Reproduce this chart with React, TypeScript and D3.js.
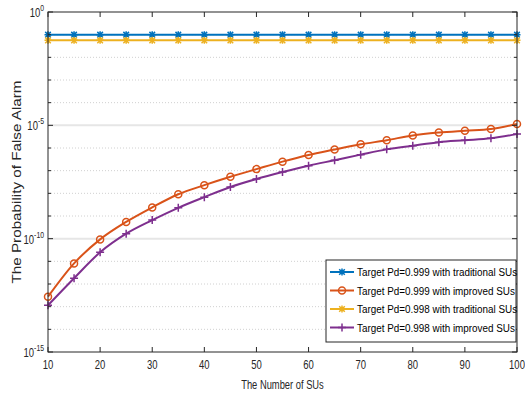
import React, { useEffect, useRef } from 'react';
import * as d3 from 'd3';

const numSUs = [10, 15, 20, 25, 30, 35, 40, 45, 50, 55, 60, 65, 70, 75, 80, 85, 90, 95, 100];
const pd999Traditional = [0.1, 0.1, 0.1, 0.1, 0.1, 0.1, 0.1, 0.1, 0.1, 0.1, 0.1, 0.1, 0.1, 0.1, 0.1, 0.1, 0.1, 0.1, 0.1];
const pd999Improved = [2.75e-13, 8.1e-12, 9.3e-11, 5.5e-10, 2.4e-9, 9.1e-9, 2.3e-8, 5.4e-8, 1.17e-7, 2.5e-7, 4.9e-7, 8.5e-7, 1.45e-6, 2.2e-6, 3.6e-6, 4.8e-6, 5.8e-6, 6.9e-6, 1.15e-5];
const pd998Traditional = [0.056, 0.056, 0.056, 0.056, 0.056, 0.056, 0.056, 0.056, 0.056, 0.056, 0.056, 0.056, 0.056, 0.056, 0.056, 0.056, 0.056, 0.056, 0.056];
const pd998Improved = [1.15e-13, 1.8e-12, 2.5e-11, 1.66e-10, 6.6e-10, 2.3e-9, 6.8e-9, 1.9e-8, 4.3e-8, 8.7e-8, 1.66e-7, 2.9e-7, 5.1e-7, 8.7e-7, 1.26e-6, 1.8e-6, 2.2e-6, 2.7e-6, 4.1e-6];
const seriesNames = [
  'Target Pd=0.999 with traditional SUs',
  'Target Pd=0.999 with improved SUs',
  'Target Pd=0.998 with traditional SUs',
  'Target Pd=0.998 with improved SUs',
];
const xTicks = [10, 20, 30, 40, 50, 60, 70, 80, 90, 100];
const yMajorExp = [0, -5, -10, -15];

export default function App() {
  const svgRef = useRef<SVGSVGElement>(null);

  useEffect(() => {
    const W = 525, H = 400;
    const m = { l: 48, r: 8, t: 12, b: 48 };
    const w = W - m.l - m.r;
    const h = H - m.t - m.b;
    const svg = d3.select(svgRef.current).attr('width', W).attr('height', H);
    svg.selectAll('*').remove();
    svg.append('rect').attr('width', W).attr('height', H).attr('fill', 'white');

    const font = 'Arial, "Liberation Sans", sans-serif';
    const x = d3.scaleLinear().domain([10, 100]).range([m.l, m.l + w]);
    const y = d3.scaleLog().domain([1e-15, 1]).range([m.t + h, m.t]);

    // condensed text: draw in a group squeezed horizontally
    const narrowText = (parent: any, tx: number, ty: number, sx: number, size: number, anchor: string) =>
      parent.append('g').attr('transform', `translate(${tx},${ty}) scale(${sx},1)`)
        .append('text').attr('font-family', font).attr('font-size', size)
        .attr('text-anchor', anchor).attr('fill', '#262626');

    const g = svg.append('g');
    // grid
    for (let e = -14; e <= -1; e++) {
      const major = e % 5 === 0;
      g.append('line')
        .attr('x1', m.l).attr('x2', m.l + w)
        .attr('y1', y(Math.pow(10, e))).attr('y2', y(Math.pow(10, e)))
        .attr('stroke', major ? '#e6e6e6' : '#d0d0d0')
        .attr('stroke-width', major ? 2 : 1)
        .attr('stroke-dasharray', major ? null : '1,2');
    }

    const series = [
      { name: seriesNames[0], data: pd999Traditional, color: '#0072BD', marker: 'star' },
      { name: seriesNames[1], data: pd999Improved, color: '#D95319', marker: 'circle' },
      { name: seriesNames[2], data: pd998Traditional, color: '#EDB120', marker: 'star' },
      { name: seriesNames[3], data: pd998Improved, color: '#7E2F8E', marker: 'plus' },
    ];

    const line = d3.line<number>()
      .x((d, i) => x(numSUs[i]))
      .y(d => y(d))
      .curve(d3.curveMonotoneX);

    const drawMarker = (sel: any, cx: number, cy: number, kind: string, color: string) => {
      if (kind === 'circle') {
        sel.append('circle').attr('cx', cx).attr('cy', cy).attr('r', 3.5)
          .attr('fill', 'none').attr('stroke', color).attr('stroke-width', 1.5);
      } else if (kind === 'plus') {
        sel.append('path').attr('d', `M${cx - 4},${cy}H${cx + 4}M${cx},${cy - 4}V${cy + 4}`)
          .attr('stroke', color).attr('stroke-width', 1.5);
      } else {
        const r = 3.5;
        sel.append('path')
          .attr('d', `M${cx - r},${cy}H${cx + r}M${cx},${cy - r}V${cy + r}M${cx - r * 0.8},${cy - r * 0.8}L${cx + r * 0.8},${cy + r * 0.8}M${cx - r * 0.8},${cy + r * 0.8}L${cx + r * 0.8},${cy - r * 0.8}`)
          .attr('stroke', color).attr('stroke-width', 1.5);
      }
    };

    series.forEach(s => {
      g.append('path').attr('d', line(s.data)).attr('fill', 'none')
        .attr('stroke', s.color).attr('stroke-width', 2);
      const mg = g.append('g');
      s.data.forEach((d, i) => drawMarker(mg, x(numSUs[i]), y(d), s.marker, s.color));
    });

    // axes frame
    g.append('rect').attr('x', m.l).attr('y', m.t).attr('width', w).attr('height', h)
      .attr('fill', 'none').attr('stroke', '#262626').attr('stroke-width', 1);

    // x ticks
    xTicks.forEach(t => {
      g.append('line').attr('x1', x(t)).attr('x2', x(t)).attr('y1', m.t + h).attr('y2', m.t + h - 5)
        .attr('stroke', '#262626');
      g.append('line').attr('x1', x(t)).attr('x2', x(t)).attr('y1', m.t).attr('y2', m.t + 5)
        .attr('stroke', '#262626');
      narrowText(g, x(t), m.t + h + 17, 0.76, 12.5, 'middle').text(t);
    });

    // y ticks
    for (let e = -15; e <= 0; e++) {
      const yy = y(Math.pow(10, e));
      const len = e % 5 === 0 ? 5 : 3;
      g.append('line').attr('x1', m.l).attr('x2', m.l + len).attr('y1', yy).attr('y2', yy).attr('stroke', '#262626');
      g.append('line').attr('x1', m.l + w).attr('x2', m.l + w - len).attr('y1', yy).attr('y2', yy).attr('stroke', '#262626');
    }
    yMajorExp.forEach(e => {
      const yy = y(Math.pow(10, e));
      const t = narrowText(g, m.l - 4, yy + 5, 0.76, 12.5, 'end');
      t.append('tspan').text('10');
      t.append('tspan').attr('dy', -6).attr('font-size', 9).text(String(e));
    });

    // axis labels
    narrowText(svg, m.l + w / 2, 389, 0.72, 13, 'middle').text('The Number of SUs');
    svg.append('text').attr('transform', `translate(21, ${m.t + h / 2}) rotate(-90)`)
      .attr('text-anchor', 'middle').attr('font-family', font)
      .attr('font-size', 13).attr('fill', '#262626')
      .attr('textLength', 203).attr('lengthAdjust', 'spacingAndGlyphs')
      .text('The Probability of False Alarm');

    // legend
    const lg = svg.append('g');
    const lx = 326, ly = 260, lw = m.l + w - 1 - lx, lh = 82;
    lg.append('rect').attr('x', lx).attr('y', ly).attr('width', lw).attr('height', lh)
      .attr('fill', 'white').attr('stroke', '#262626').attr('stroke-width', 1);
    series.forEach((s, i) => {
      const yy = ly + 12 + i * 18.5;
      lg.append('line').attr('x1', lx + 4).attr('x2', lx + 28).attr('y1', yy).attr('y2', yy)
        .attr('stroke', s.color).attr('stroke-width', 2);
      drawMarker(lg, lx + 16, yy, s.marker, s.color);
      narrowText(lg, lx + 31, yy + 4, 0.86, 11.5, 'start').attr('fill', '#000').text(s.name);
    });
  }, []);

  return (
    <div style={{ position: 'absolute', left: 0, top: 0 }}>
      <svg ref={svgRef}></svg>
    </div>
  );
}
